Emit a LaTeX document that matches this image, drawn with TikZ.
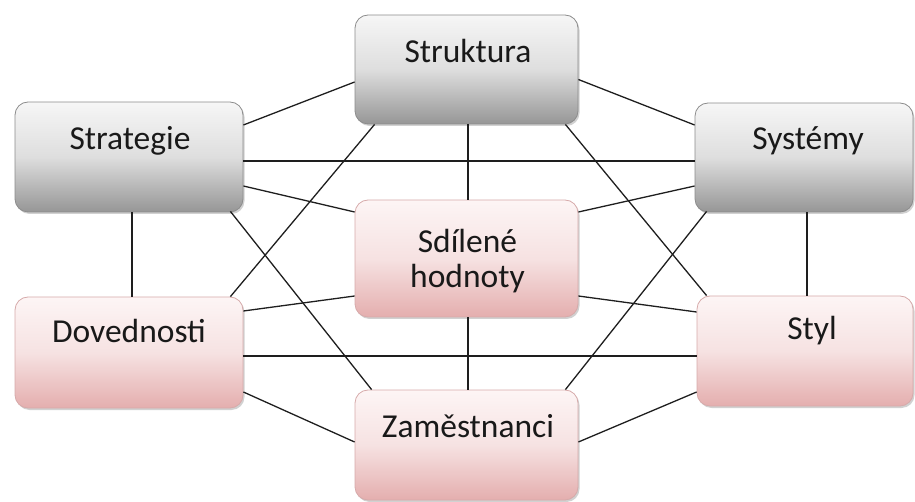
\documentclass[tikz,border=0pt]{standalone}
\usepackage{fontspec}
\setmainfont{Carlito}
\usetikzlibrary{calc,shadows}
\definecolor{linec}{RGB}{30,30,30}
\definecolor{gtop}{RGB}{246,246,246}
\definecolor{gmid}{RGB}{222,222,222}
\definecolor{gbot}{RGB}{150,150,150}
\definecolor{gdraw}{RGB}{140,140,140}
\definecolor{ptop}{RGB}{253,245,245}
\definecolor{pmid}{RGB}{246,226,226}
\definecolor{pbot}{RGB}{228,174,174}
\definecolor{pdraw}{RGB}{214,170,170}
\tikzset{
  box/.style={rectangle, rounded corners=13pt, inner sep=0pt, line width=0.8pt,
    drop shadow={shadow xshift=1.5pt, shadow yshift=-2pt, opacity=0.3, fill=black!60}},
  greybox/.style={box, draw=gdraw, top color=gtop, bottom color=gbot, middle color=gmid},
  pinkbox/.style={box, draw=pdraw, top color=ptop, bottom color=pbot, middle color=pmid},
  txt/.style={anchor=base, inner sep=0pt, font=\fontsize{33.5}{36}\selectfont, text=black!90, align=center},
  conn/.style={draw=linec, line width=1.3pt}
}
\begin{document}
\begin{tikzpicture}[x=1pt,y=-1pt]
\useasboundingbox (0,0) rectangle (915,502);
% boxes
\node[greybox, minimum width=223pt, minimum height=109pt] (strukt) at (466.5,69.5) {};
\node[greybox, minimum width=228pt, minimum height=110pt] (strat) at (129,157) {};
\node[greybox, minimum width=218pt, minimum height=109pt] (syst) at (804,157.5) {};
\node[pinkbox, minimum width=223pt, minimum height=117pt] (sdil) at (466.5,258.5) {};
\node[pinkbox, minimum width=228pt, minimum height=111pt] (dov) at (129,352.5) {};
\node[pinkbox, minimum width=216pt, minimum height=110pt] (styl) at (805,351) {};
\node[pinkbox, minimum width=223pt, minimum height=110pt] (zam) at (466.5,445) {};
% texts
\node[txt] (strukt-t) at ($(strukt.north)+(1.5,48)$) {Struktura};
\node[txt] (strat-t) at ($(strat.north)+(1,48)$) {Strategie};
\node[txt] (syst-t) at ($(syst.north)+(4,47)$) {Systémy};
\node[txt] (sdil-t) at ($(sdil.north)+(1,53)$) {Sdílené};
\node[txt] (sdil-t2) at ($(sdil.north)+(1,88)$) {hodnoty};
\node[txt] (dov-t) at ($(dov.north)+(0,46)$) {Dovednosti};
\node[txt] (styl-t) at ($(styl.north)+(7,44)$) {Styl};
\node[txt] (zam-t) at ($(zam.north)+(1.5,48)$) {Zaměstnanci};
% connectors
\draw[conn] ($(strat.east)+(0,-32)$) -- ($(strukt.west)+(0,12.5)$);
\draw[conn] ($(strat.east)+(0,4)$) -- ($(syst.west)+(0,3.5)$);
\draw[conn] ($(strat.east)+(0,29)$) -- ($(sdil.west)+(0,-46.5)$);
\draw[conn] ($(strat.south)+(3,0)$) -- ($(dov.north)+(3,0)$);
\draw[conn] ($(strat.south east)+(-13,-1)$) -- ($(zam.north west)+(17,0)$);
\draw[conn] ($(strukt.east)+(0,10)$) -- ($(syst.west)+(0,-32.5)$);
\draw[conn] ($(strukt.south)+(1.5,0)$) -- ($(sdil.north)+(1.5,0)$);
\draw[conn] ($(strukt.south west)+(20,0)$) -- ($(dov.north east)+(-13,0)$);
\draw[conn] ($(strukt.south east)+(-13,0)$) -- ($(styl.north west)+(10,0)$);
\draw[conn] ($(syst.west)+(0,28.5)$) -- ($(sdil.east)+(0,-46.5)$);
\draw[conn] ($(syst.south)+(3,0)$) -- ($(styl.north)+(2,0)$);
\draw[conn] ($(syst.south west)+(12,-1)$) -- ($(zam.north east)+(-13,0)$);
\draw[conn] ($(sdil.west)+(0,37.5)$) -- ($(dov.east)+(0,-41.5)$);
\draw[conn] ($(sdil.east)+(0,37.5)$) -- ($(styl.west)+(0,-39)$);
\draw[conn] ($(sdil.south)+(1.5,0)$) -- ($(zam.north)+(1.5,0)$);
\draw[conn] ($(dov.east)+(0,3.5)$) -- ($(styl.west)+(0,5)$);
\draw[conn] ($(dov.east)+(0,39.5)$) -- ($(zam.west)+(0,-3)$);
\draw[conn] ($(zam.east)+(0,-3)$) -- ($(styl.west)+(0,41)$);
\end{tikzpicture}
\end{document}
